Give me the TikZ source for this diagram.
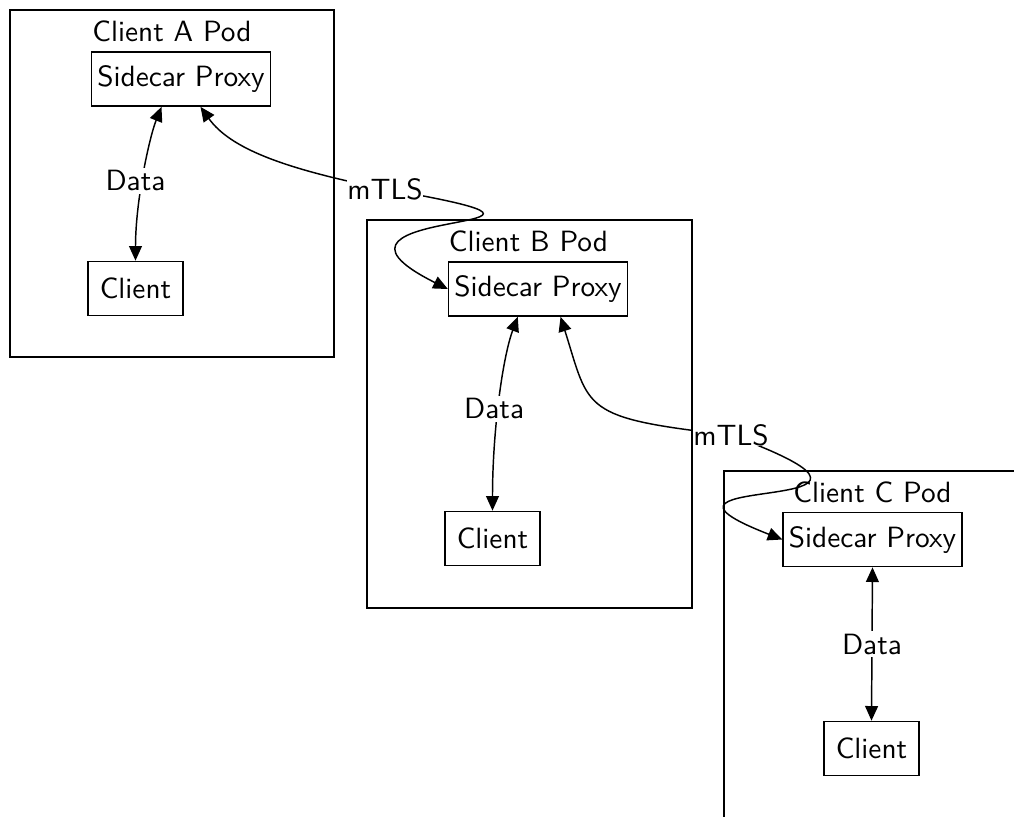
\documentclass[tikz,border=0pt]{standalone}
\usetikzlibrary{arrows.meta}

\tikzset{
	box/.style={draw, font=\sffamily, minimum height=18.5pt, inner xsep=2pt},
	clientbox/.style={box, minimum width=32.4pt},
	podlabel/.style={font=\sffamily, inner sep=0pt},
	link/.style={{Triangle[length=5pt,width=4.4pt]}-{Triangle[length=5pt,width=4.4pt]}},
	lbl/.style={font=\sffamily, fill=white, inner sep=1pt}
}

\begin{document}
\begin{tikzpicture}[x=0.012cm, y=-0.012cm, line width=0.5pt]
		\useasboundingbox (0,0) rectangle (1014,816);
		
		% Client A Pod
		\begin{scope}[shift={(10,10)}]
			\draw (0,0) rectangle (324,347);
			\node[podlabel] (labA) at (162,21) {Client A Pod};
			\node[box] (pA) at (171,69) {Sidecar Proxy};
			\node[clientbox] (cA) at (125.5,278.5) {Client};
		\end{scope}
		
		% Client B Pod
		\begin{scope}[shift={(367,220)}]
			\draw (0,0) rectangle (325,388);
			\node[podlabel] (labB) at (161.5,21) {Client B Pod};
			\node[box] (pB) at (171,69) {Sidecar Proxy};
			\node[clientbox] (cB) at (125.5,318.5) {Client};
		\end{scope}
		
		% Client C Pod (runs off the page)
		\begin{scope}[shift={(724,471)}]
			\draw (0,0) rectangle (400,400);
			\node[podlabel] (labC) at (148.5,21) {Client C Pod};
			\node[box] (pC) at (148.5,68.5) {Sidecar Proxy};
			\node[clientbox] (cC) at (147.5,277.5) {Client};
		\end{scope}
		
		% Data links
		\draw[link] (pA.-125) .. controls +(-12,30) and +(0,-60) .. (cA.north)
			node[lbl, pos=0.55, xshift=-2.4pt] {Data};
		\draw[link] (pB.-126) .. controls +(-15,40) and +(0,-80) .. (cB.north)
			node[lbl, pos=0.55, xshift=-1.4pt] {Data};
		\draw[link] (pC.south) -- (cC.north) node[lbl, midway] {Data};
		
		% mTLS links
		\draw[link] (pA.-55) .. controls +(30,42) and (285,169) .. (385,189) node[lbl, inner sep=0pt] {mTLS}
			.. controls (650,235) and +(-170,-85) .. (pB.west);
		\draw[link] (pB.-51) .. controls (590,410) and (580,418) .. (731,435) node[lbl, inner sep=0pt] {mTLS}
			.. controls (961,520) and +(-180,-70) .. (pC.west);
\end{tikzpicture}
\end{document}
